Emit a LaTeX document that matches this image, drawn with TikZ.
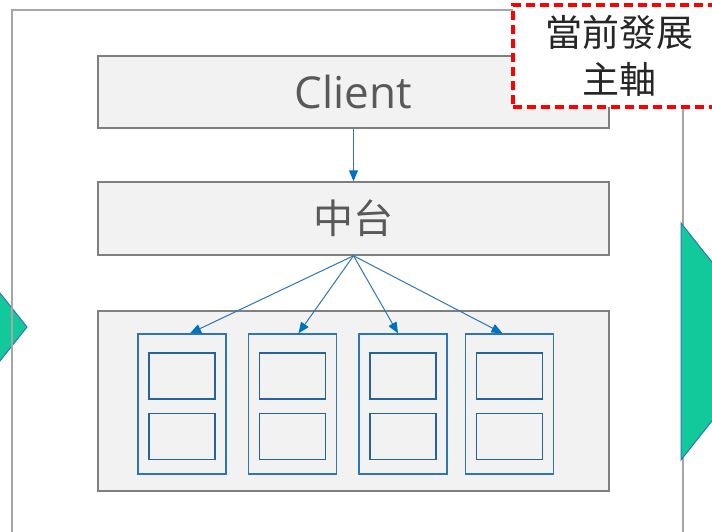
\documentclass[tikz,border=0pt]{standalone}
\usepackage{fontspec}
\setmainfont{Open Sans}
\newfontfamily\cjk{Noto Sans CJK TC}
\usetikzlibrary{arrows.meta}
\definecolor{boxfill}{HTML}{F2F2F2}
\definecolor{boxline}{HTML}{7F7F7F}
\definecolor{framegray}{HTML}{A6A6A6}
\definecolor{textgray}{HTML}{595959}
\definecolor{linkblue}{HTML}{2E75B6}
\definecolor{tipblue}{HTML}{0070C0}
\definecolor{flowgreen}{HTML}{12C99B}
\begin{document}
\begin{tikzpicture}[x=1pt, y=-1pt,
        layer/.style={draw=boxline, line width=1.5pt, fill=boxfill, minimum width=511pt, inner sep=0pt, text=textgray},
        shard/.style={draw=linkblue, line width=1.3pt, minimum width=88pt, minimum height=140pt, inner sep=0pt},
        cell/.style={draw=linkblue!85!black, line width=1.8pt, minimum width=66pt, minimum height=46pt, inner sep=0pt},
        link/.style={linkblue, line width=1pt, -{Triangle[length=11pt, width=9pt, color=tipblue]}},
        flow/.style={fill=flowgreen, draw=linkblue, line width=1pt}]
    \useasboundingbox (0, 0) rectangle (712, 531);
    \clip (0, 0) rectangle (712, 531);
    % green arrows and frame
    \filldraw[flow] (-70, 205) -- (27, 327) -- (-70, 449) -- cycle;
    \draw[framegray, line width=2pt] (12, 560) -- (12, 10) -- (683, 10) -- (683, 560);
    \filldraw[flow] (681, 223) -- (775, 341.5) -- (681, 460) -- cycle;
    % layers
    \node[layer, minimum height=72pt, font=\fontsize{44}{52}\selectfont] (client) at (353.5, 92) {Client};
    \node[layer, minimum height=73pt, font=\cjk\fontsize{40}{48}\selectfont] (mid) at (353.5, 218.5) {中台};
    \node[layer, minimum height=180pt] (pool) at (353.5, 401) {};
    \draw[link] (client) -- (mid);
    \foreach \i/\cx/\dx in {1/182/8, 2/292.5/6, 3/403/-5, 4/509.5/-7} {
        \node[shard] (col\i) at (\cx, 404) {};
        \node[cell] (col\i-up) at (\cx, 376) {};
        \node[cell] (col\i-down) at (\cx, 436.5) {};
        \draw[link] (mid.south) -- ([xshift=\dx pt]col\i.north);
    }
    % focus label
    \node[draw=red, line width=3.5pt, dash pattern=on 9pt off 5pt, fill=white, minimum width=212pt, minimum height=102pt,
        inner sep=0pt, align=center, text=black!85, font=\cjk\fontsize{37}{47}\selectfont] (focus) at (619, 56) {當前發展\\主軸};
\end{tikzpicture}
\end{document}
